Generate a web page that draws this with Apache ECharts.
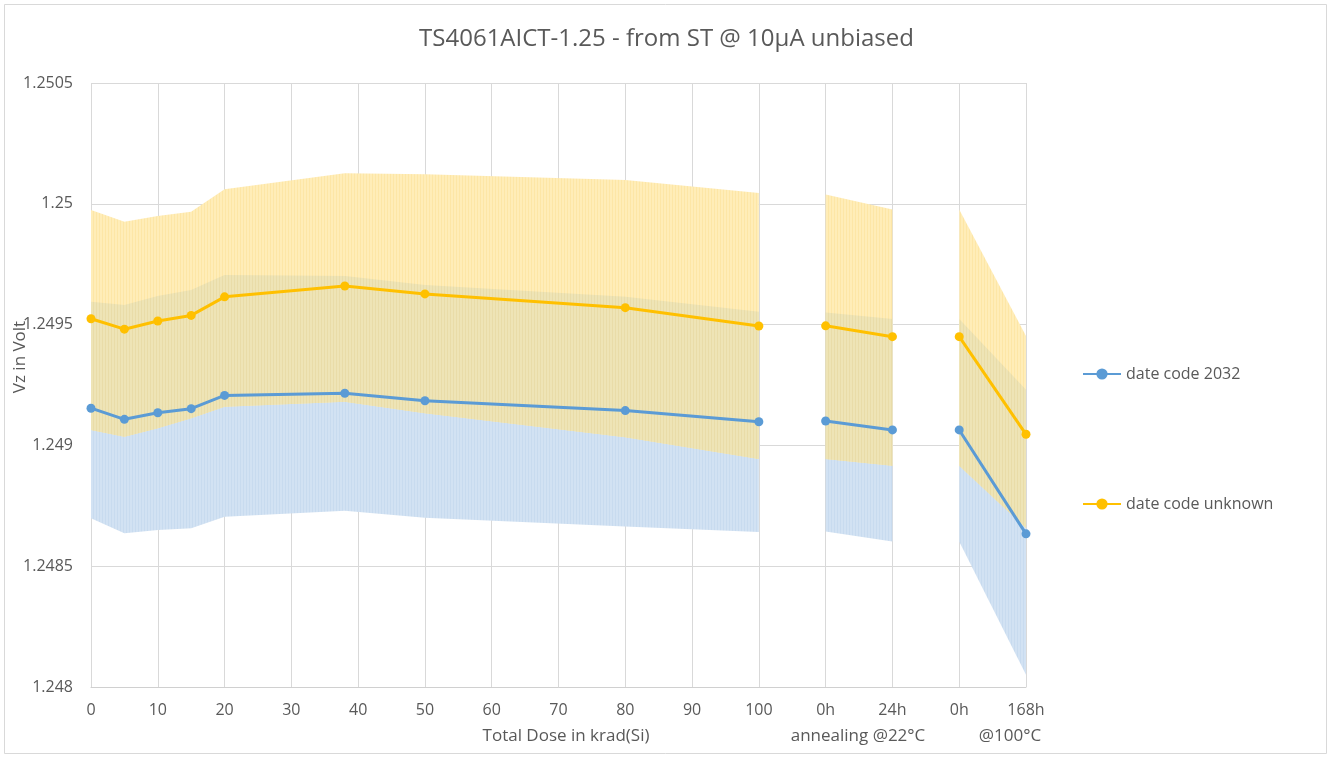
<!DOCTYPE html>
<html>
<head>
<meta charset="utf-8">
<script src="https://cdn.jsdelivr.net/npm/echarts@6/dist/echarts.min.js"></script>
<style>
  html, body { margin: 0; padding: 0; background: #ffffff; }
  #chart { width: 1333px; height: 758px; }
</style>
</head>
<body>
<div id="chart"></div>
<script>
// ---- data ----
const xValues = [0, 5, 10, 15, 20, 38, 50, 80, 100, 110, 120, 130, 140];
// index ranges of the connected parts: irradiation, annealing @22°C, annealing @100°C
const segments = [[0, 8], [9, 10], [11, 12]];
const doseTicks = [0, 10, 20, 30, 40, 50, 60, 70, 80, 90, 100];
const annealTicks = [110, 120, 130, 140];
const annealTickLabels = ['0h', '24h', '0h', '168h'];

const seriesNames = ['date code 2032', 'date code unknown'];

const blueMean  = [1.249154, 1.249108, 1.249135, 1.249152, 1.249207, 1.249216, 1.249185, 1.249144, 1.249098, 1.249101, 1.249064, 1.249064, 1.248634];
const blueUpper = [1.249595, 1.249581, 1.249618, 1.249643, 1.249705, 1.249701, 1.249664, 1.249615, 1.249553, 1.249550, 1.249523, 1.249523, 1.249230];
const blueLower = [1.248698, 1.248636, 1.248650, 1.248657, 1.248705, 1.248729, 1.248701, 1.248664, 1.248642, 1.248644, 1.248602, 1.248602, 1.248051];

const yellowMean  = [1.249524, 1.249481, 1.249515, 1.249538, 1.249615, 1.249660, 1.249627, 1.249570, 1.249494, 1.249495, 1.249450, 1.249450, 1.249046];
const yellowUpper = [1.249974, 1.249926, 1.249950, 1.249967, 1.250060, 1.250126, 1.250122, 1.250099, 1.250045, 1.250039, 1.249976, 1.249976, 1.249453];
const yellowLower = [1.249064, 1.249036, 1.249071, 1.249112, 1.249160, 1.249181, 1.249133, 1.249034, 1.248944, 1.248944, 1.248916, 1.248916, 1.248658];

// ---- helpers ----
const FONT = '"Open Sans", "Noto Sans", sans-serif';
const TXT = '#595959';

function lineData(vals) {
  const out = [];
  segments.forEach(function (s, k) {
    if (k > 0) out.push([xValues[s[0]], null]);
    for (let i = s[0]; i <= s[1]; i++) out.push([xValues[i], vals[i]]);
  });
  return out;
}

function stripes(base, line) {
  const c = document.createElement('canvas');
  c.width = 3; c.height = 4;
  const g = c.getContext('2d');
  g.fillStyle = base; g.fillRect(0, 0, 3, 4);
  g.fillStyle = line; g.fillRect(0, 0, 1, 4);
  return { image: c, repeat: 'repeat' };
}

const fillBlue = stripes('#d2e2f3', '#c8dbef');
const fillYellow = stripes('#ffedb8', '#fde6a6');
const fillBoth = stripes('#eee4b6', '#e9dca8');

function bandPolygon(api, s, lo, hi) {
  const pts = [];
  for (let i = s[0]; i <= s[1]; i++) pts.push(api.coord([xValues[i], hi[i]]));
  for (let i = s[1]; i >= s[0]; i--) pts.push(api.coord([xValues[i], lo[i]]));
  return pts;
}

// overlap of the two bands: between max(lowers) and min(uppers)
function overlapPolygon(api, s) {
  const up = [], dn = [];
  for (let i = s[0]; i < s[1]; i++) {
    const j = i + 1;
    const ts = [0];
    const dLo0 = yellowLower[i] - blueLower[i], dLo1 = yellowLower[j] - blueLower[j];
    if (dLo0 * dLo1 < 0) ts.push(dLo0 / (dLo0 - dLo1));
    const dHi0 = yellowUpper[i] - blueUpper[i], dHi1 = yellowUpper[j] - blueUpper[j];
    if (dHi0 * dHi1 < 0) ts.push(dHi0 / (dHi0 - dHi1));
    if (j === s[1]) ts.push(1);
    ts.sort(function (a, b) { return a - b; });
    ts.forEach(function (t) {
      const x = xValues[i] + (xValues[j] - xValues[i]) * t;
      const lerp = function (a) { return a[i] + (a[j] - a[i]) * t; };
      const lo = Math.max(lerp(yellowLower), lerp(blueLower));
      const hi = Math.max(lo, Math.min(lerp(yellowUpper), lerp(blueUpper)));
      up.push(api.coord([x, hi]));
      dn.push(api.coord([x, lo]));
    });
  }
  return up.concat(dn.reverse());
}

const chart = echarts.init(document.getElementById('chart'), null, { renderer: 'canvas' });

chart.setOption({
  backgroundColor: '#ffffff',
  animation: false,
  textStyle: { fontFamily: FONT },
  title: {
    text: 'TS4061AICT-1.25 - from ST @ 10µA unbiased',
    left: 'center',
    top: 22,
    textStyle: { fontFamily: FONT, fontSize: 24, fontWeight: 'normal', color: TXT }
  },
  grid: { left: 91, right: 307, top: 83, bottom: 71, containLabel: false },
  legend: {
    data: seriesNames,
    orient: 'vertical',
    left: 1082,
    top: 366,
    padding: 0,
    itemWidth: 38,
    itemHeight: 14,
    itemGap: 114,
    textStyle: { fontFamily: FONT, fontSize: 16, color: TXT }
  },
  xAxis: {
    type: 'value',
    min: 0,
    max: 140,
    interval: 10,
    axisLine: { show: true, lineStyle: { color: '#d0d0d0', width: 1 } },
    axisTick: { show: false },
    splitLine: { show: true, lineStyle: { color: '#d9d9d9', width: 1 } },
    axisLabel: {
      margin: 15,
      fontFamily: FONT,
      fontSize: 16,
      color: TXT,
      showMaxLabel: true,
      formatter: function (v) {
        const k = annealTicks.indexOf(v);
        if (k >= 0) return annealTickLabels[k];
        return doseTicks.indexOf(v) >= 0 ? String(v) : '';
      }
    }
  },
  yAxis: {
    type: 'value',
    min: 1.248,
    max: 1.2505,
    interval: 0.0005,
    axisLine: { show: false },
    axisTick: { show: false },
    splitLine: { show: true, lineStyle: { color: '#d9d9d9', width: 1 } },
    axisLabel: {
      margin: 18,
      fontFamily: FONT,
      fontSize: 16,
      color: TXT,
      formatter: function (v) { return String(parseFloat(v.toFixed(4))); }
    }
  },
  graphic: [
    { type: 'rect', silent: true, z: 100,
      shape: { x: 4.5, y: 4.5, width: 1322, height: 749 },
      style: { fill: 'none', stroke: '#d9d9d9', lineWidth: 1 } },
    { type: 'text', x: 20, y: 357, rotation: Math.PI / 2, silent: true,
      style: { text: 'Vz in Volt', fill: TXT, font: '17px ' + FONT, align: 'center', verticalAlign: 'middle' } },
    { type: 'text', x: 566, y: 736, silent: true,
      style: { text: 'Total Dose in krad(Si)', fill: TXT, font: '17px ' + FONT, align: 'center', verticalAlign: 'middle' } },
    { type: 'text', x: 858, y: 736, silent: true,
      style: { text: 'annealing @22°C', fill: TXT, font: '17px ' + FONT, align: 'center', verticalAlign: 'middle' } },
    { type: 'text', x: 1010, y: 736, silent: true,
      style: { text: '@100°C', fill: TXT, font: '17px ' + FONT, align: 'center', verticalAlign: 'middle' } }
  ],
  series: [
    {
      name: 'bands',
      type: 'custom',
      z: 1,
      silent: true,
      data: segments.map(function (s, k) { return [xValues[s[0]], blueMean[s[0]], k]; }),
      renderItem: function (params, api) {
        const s = segments[api.value(2)];
        return {
          type: 'group',
          children: [
            { type: 'polygon', shape: { points: bandPolygon(api, s, blueLower, blueUpper) },
              style: { fill: fillBlue } },
            { type: 'polygon', shape: { points: bandPolygon(api, s, yellowLower, yellowUpper) },
              style: { fill: fillYellow } },
            { type: 'polygon', shape: { points: overlapPolygon(api, s) },
              style: { fill: fillBoth } }
          ]
        };
      }
    },
    {
      name: seriesNames[0],
      type: 'line',
      z: 3,
      data: lineData(blueMean),
      connectNulls: false,
      symbol: 'circle',
      symbolSize: 9,
      showAllSymbol: true,
      color: '#5b9bd5',
      lineStyle: { color: '#5b9bd5', width: 3 },
      itemStyle: { color: '#5b9bd5' }
    },
    {
      name: seriesNames[1],
      type: 'line',
      z: 3,
      data: lineData(yellowMean),
      connectNulls: false,
      symbol: 'circle',
      symbolSize: 9,
      showAllSymbol: true,
      color: '#ffc000',
      lineStyle: { color: '#ffc000', width: 3 },
      itemStyle: { color: '#ffc000' }
    }
  ]
});
</script>
</body>
</html>
